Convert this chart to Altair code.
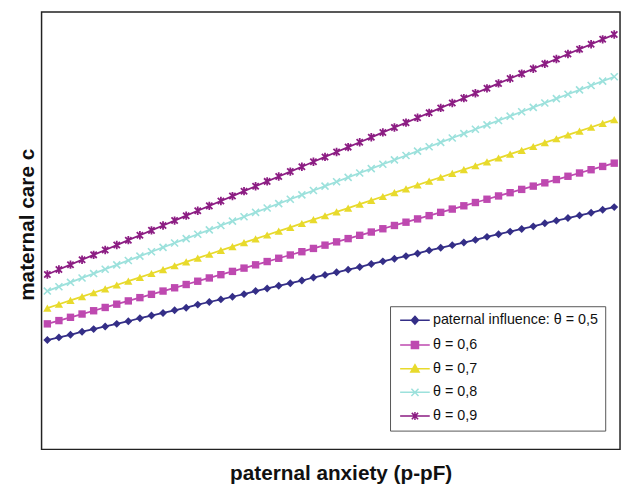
import altair as alt
import pandas as pd

# x positions of the 50 computed points (arbitrary units, axis has no labels)
x_vals = list(range(1, 100, 2))

series_keys = ["t05", "t06", "t07", "t08", "t09"]
series_labels = [
    "paternal influence: θ = 0,5",
    "\u2009θ = 0,6",
    "θ = 0,7",
    "θ = 0,8",
    "θ = 0,9",
]

y_05 = [25.0, 25.6, 26.2, 26.9, 27.5, 28.1, 28.7, 29.3, 30.0, 30.6,
        31.2, 31.8, 32.4, 33.1, 33.7, 34.3, 34.9, 35.5, 36.2, 36.8,
        37.4, 38.0, 38.6, 39.3, 39.9, 40.5, 41.1, 41.7, 42.4, 43.0,
        43.6, 44.2, 44.8, 45.5, 46.1, 46.7, 47.3, 47.9, 48.6, 49.2,
        49.8, 50.4, 51.0, 51.7, 52.3, 52.9, 53.5, 54.1, 54.8, 55.4]
y_06 = [28.70, 29.45, 30.20, 30.95, 31.70, 32.45, 33.20, 33.95, 34.70, 35.45,
        36.20, 36.95, 37.70, 38.45, 39.20, 39.95, 40.70, 41.45, 42.20, 42.95,
        43.70, 44.45, 45.20, 45.95, 46.70, 47.45, 48.20, 48.95, 49.70, 50.45,
        51.20, 51.95, 52.70, 53.45, 54.20, 54.95, 55.70, 56.45, 57.20, 57.95,
        58.70, 59.45, 60.20, 60.95, 61.70, 62.45, 63.20, 63.95, 64.70, 65.45]
y_07 = [32.30, 33.18, 34.06, 34.94, 35.82, 36.70, 37.58, 38.46, 39.34, 40.22,
        41.10, 41.98, 42.86, 43.74, 44.62, 45.50, 46.38, 47.26, 48.14, 49.02,
        49.90, 50.78, 51.66, 52.54, 53.42, 54.30, 55.18, 56.06, 56.94, 57.82,
        58.70, 59.58, 60.46, 61.34, 62.22, 63.10, 63.98, 64.86, 65.74, 66.62,
        67.50, 68.38, 69.26, 70.14, 71.02, 71.90, 72.78, 73.66, 74.54, 75.42]
y_08 = [36.2, 37.2, 38.2, 39.2, 40.2, 41.2, 42.2, 43.2, 44.2, 45.2,
        46.2, 47.2, 48.2, 49.2, 50.2, 51.2, 52.2, 53.2, 54.2, 55.2,
        56.2, 57.2, 58.2, 59.2, 60.2, 61.2, 62.2, 63.2, 64.2, 65.2,
        66.2, 67.2, 68.2, 69.2, 70.2, 71.2, 72.2, 73.2, 74.2, 75.2,
        76.2, 77.2, 78.2, 79.2, 80.2, 81.2, 82.2, 83.2, 84.2, 85.2]
y_09 = [40.00, 41.12, 42.24, 43.36, 44.48, 45.60, 46.72, 47.84, 48.96, 50.08,
        51.20, 52.32, 53.44, 54.56, 55.68, 56.80, 57.92, 59.04, 60.16, 61.28,
        62.40, 63.52, 64.64, 65.76, 66.88, 68.00, 69.12, 70.24, 71.36, 72.48,
        73.60, 74.72, 75.84, 76.96, 78.08, 79.20, 80.32, 81.44, 82.56, 83.68,
        84.80, 85.92, 87.04, 88.16, 89.28, 90.40, 91.52, 92.64, 93.76, 94.88]

colors = ["#342E87", "#BE49B0", "#E8DA2C", "#9CE1DC", "#8C1D83"]

all_y = [y_05, y_06, y_07, y_08, y_09]
rows = []
for key, lab, ys in zip(series_keys, series_labels, all_y):
    for xv, yv in zip(x_vals, ys):
        rows.append({"x": xv, "y": yv, "key": key, "series": lab})
df = pd.DataFrame(rows)

FONT = "Liberation Sans"

x_enc = alt.X("x:Q", scale=alt.Scale(domain=[0, 100], nice=False, zero=False),
              axis=alt.Axis(title="paternal anxiety (p-pF)", labels=False, ticks=False,
                            domain=False, grid=False, titleFontSize=21,
                            titleFontWeight="bold", titleFont=FONT, titleColor="#111",
                            titlePadding=14, titleX=303))
y_enc = alt.Y("y:Q", scale=alt.Scale(domain=[0, 100], nice=False, zero=False),
              axis=alt.Axis(title="maternal care c", labels=False, ticks=False,
                            domain=False, grid=False, titleFontSize=21,
                            titleFontWeight="bold", titleFont=FONT, titleColor="#111",
                            titlePadding=4, titleY=215))

color_scale = alt.Scale(domain=series_keys, range=colors)
base = alt.Chart(df)

lines = base.mark_line(strokeWidth=1.8).encode(
    x=x_enc, y=y_enc,
    color=alt.Color("key:N", scale=color_scale, legend=None),
)

X_PATH = "M-1,-1L1,1M-1,1L1,-1"
STAR_PATH = "M-0.9,-0.9L0.9,0.9M-0.9,0.9L0.9,-0.9M0,-1.2L0,1.2"
marker_specs = [
    dict(shape="diamond", filled=True, size=64),
    dict(shape="square", filled=True, size=56),
    dict(shape="triangle-up", filled=True, size=70),
    dict(shape=X_PATH, filled=False, size=50, strokeWidth=1.6),
    dict(shape=STAR_PATH, filled=False, size=50, strokeWidth=1.8),
]
point_layers = []
for key, spec in zip(series_keys, marker_specs):
    point_layers.append(
        base.transform_filter(alt.FieldEqualPredicate(field="key", equal=key))
        .mark_point(opacity=1, **spec)
        .encode(x="x:Q", y="y:Q",
                color=alt.Color("key:N", scale=color_scale, legend=None))
    )

LINE = "M-1,0L6.5,0"
legend_paths = [
    LINE + "M2.75,-1L3.65,0L2.75,1L1.85,0Z",
    LINE + "M1.85,-0.9L3.65,-0.9L3.65,0.9L1.85,0.9Z",
    LINE + "M2.75,-1L3.8,0.85L1.7,0.85Z",
    LINE + "M1.85,-0.9L3.65,0.9M1.85,0.9L3.65,-0.9",
    LINE + "M1.95,-0.8L3.55,0.8M1.95,0.8L3.55,-0.8M2.75,-1L2.75,1",
]
leg = alt.Legend(title=None, orient="none", legendX=353, legendY=298,
                 padding=7, strokeColor="#555", fillColor="white",
                 symbolSize=64, symbolStrokeWidth=1.5, symbolOpacity=1,
                 labelFontSize=14.5, labelFont=FONT, labelColor="#111", labelLimit=400,
                 labelOffset=22, rowPadding=9, cornerRadius=0)
# legend-only layer: draws no data (entries come from the explicit scale domains)
legend_layer = base.transform_filter("datum.x < -1000").mark_point(filled=True).encode(
    x="x:Q", y="y:Q",
    fill=alt.Fill("series:N", scale=alt.Scale(domain=series_labels, range=colors), legend=leg),
    stroke=alt.Stroke("series:N", scale=alt.Scale(domain=series_labels, range=colors), legend=leg),
    shape=alt.Shape("series:N", scale=alt.Scale(domain=series_labels, range=legend_paths), legend=leg),
)

chart = alt.layer(lines, *point_layers, legend_layer).properties(
    width=586, height=443,
    autosize=alt.AutoSizeParams(type="none"),
    padding={"left": 34, "top": 1, "right": 2, "bottom": 35},
).configure_view(stroke="#222", strokeWidth=1.5)

chart.save("out.html", embed_options={"renderer": "svg", "actions": False})
